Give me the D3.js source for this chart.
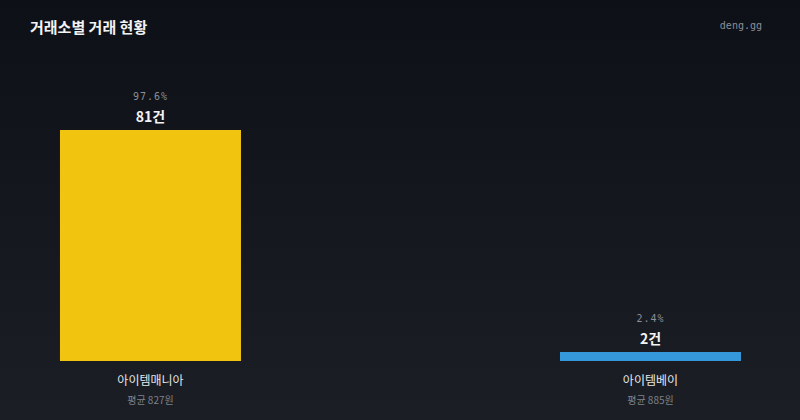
<!DOCTYPE html>
<html>
<head>
<meta charset="utf-8">
<script src="https://cdn.jsdelivr.net/npm/d3@7"></script>
<style>
  html, body { margin: 0; padding: 0; background: #12151b; }
  svg { display: block; }
</style>
</head>
<body>
<svg id="chart" width="800" height="420"></svg>
<script>
var exchanges = ["아이템매니아", "아이템베이"];
var counts = [81, 2];
var shares = ["97.6%", "2.4%"];
var avgPrices = [827, 885];
var colors = ["#f1c40f", "#3498db"];

var width = 800;
var height = 420;
var barTop = 130;
var barBottom = 361;
var minBar = 9;

var svg = d3.select("#chart");

// background
var defs = svg.append("defs");
var grad = defs.append("linearGradient")
  .attr("id", "bg")
  .attr("x1", 0).attr("y1", 0)
  .attr("x2", 0).attr("y2", 1);
grad.append("stop").attr("offset", "0%").attr("stop-color", "#0d1016");
grad.append("stop").attr("offset", "100%").attr("stop-color", "#1b1e24");
svg.append("rect")
  .attr("width", width)
  .attr("height", height)
  .attr("fill", "url(#bg)");

// title
svg.append("text")
  .text("거래소별 거래 현황")
  .attr("x", 30)
  .attr("y", 33)
  .attr("fill", "#f2f3f5")
  .style("font-family", "'Noto Sans CJK KR', 'Noto Sans', sans-serif")
  .style("font-size", "15px")
  .style("font-weight", "bold");

svg.append("text")
  .text("deng.gg")
  .attr("x", 762)
  .attr("y", 29)
  .attr("text-anchor", "end")
  .attr("fill", "#8a8f98")
  .style("font-family", "'DejaVu Sans Mono', monospace")
  .style("font-size", "10px");

var x = d3.scaleBand()
  .domain(exchanges)
  .range([0, width])
  .paddingInner(0.638)
  .paddingOuter(0.119)
  .align(0.504);

var y = d3.scaleLinear()
  .domain([0, d3.max(counts)])
  .range([barBottom, barTop]);

var data = exchanges.map(function(d, i) {
  return { name: d, count: counts[i], share: shares[i], avg: avgPrices[i], color: colors[i] };
});

function barY(d) {
  return Math.min(y(d.count), barBottom - minBar);
}

var g = svg.selectAll("g.bar")
  .data(data)
  .enter()
  .append("g")
  .attr("class", "bar");

g.append("rect")
  .attr("x", function(d) { return x(d.name); })
  .attr("y", barY)
  .attr("width", x.bandwidth())
  .attr("height", function(d) { return barBottom - barY(d); })
  .attr("fill", function(d) { return d.color; });

// count label
g.append("text")
  .text(function(d) { return d.count + "건"; })
  .attr("x", function(d) { return x(d.name) + x.bandwidth() / 2; })
  .attr("y", function(d) { return barY(d) - 8; })
  .attr("text-anchor", "middle")
  .attr("fill", "#f2f3f5")
  .style("font-family", "'Noto Sans CJK KR', sans-serif")
  .style("font-size", "14px")
  .style("font-weight", "bold");

// share label
g.append("text")
  .text(function(d) { return d.share; })
  .attr("x", function(d) { return x(d.name) + x.bandwidth() / 2; })
  .attr("y", function(d) { return barY(d) - 30; })
  .attr("text-anchor", "middle")
  .attr("fill", "#8a8f98")
  .style("font-family", "'DejaVu Sans Mono', monospace")
  .style("font-size", "10px")
  .style("letter-spacing", "1px");

// category label
g.append("text")
  .text(function(d) { return d.name; })
  .attr("x", function(d) { return x(d.name) + x.bandwidth() / 2; })
  .attr("y", 385)
  .attr("text-anchor", "middle")
  .attr("fill", "#e6e8eb")
  .style("font-family", "'Noto Sans CJK KR', sans-serif")
  .style("font-size", "12px");

// average price
g.append("text")
  .text(function(d) { return "평균 " + d.avg + "원"; })
  .attr("x", function(d) { return x(d.name) + x.bandwidth() / 2; })
  .attr("y", 404)
  .attr("text-anchor", "middle")
  .attr("fill", "#7d828b")
  .style("font-family", "'Noto Sans CJK KR', sans-serif")
  .style("font-size", "10px");
</script>
</body>
</html>
